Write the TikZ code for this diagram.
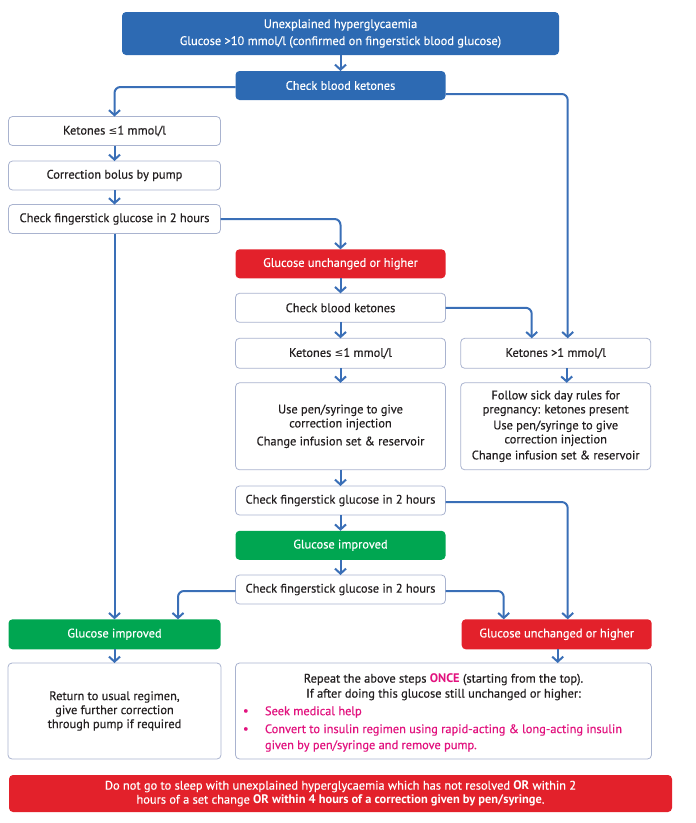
\documentclass[tikz,border=0pt]{standalone}
\usepackage{fontspec}
\setmainfont{PT Sans}[UprightFeatures={FakeBold=0.4}]
\newfontfamily\symf{DejaVu Sans}
\usetikzlibrary{arrows.meta,calc}
\definecolor{nblue}{HTML}{2D6AB3}
\definecolor{abl}{HTML}{3A6FB7}
\definecolor{nred}{HTML}{E3212B}
\definecolor{ngreen}{HTML}{00A651}
\definecolor{mag}{HTML}{E2127E}
\definecolor{bord}{HTML}{A9B3CF}
\definecolor{txt}{HTML}{231F20}
\newcommand{\lesym}{{\symf\fontsize{10.5}{14}\selectfont ≤}}
\begin{document}
\begin{tikzpicture}[x=1pt,y=-1pt, font=\fontsize{12.4}{14}\selectfont,
 base/.style={rounded corners=4pt, inner sep=0pt, outer sep=0pt, align=center},
 wbox/.style={base, draw=bord, line width=0.8pt, fill=white, text=txt},
 bbox/.style={base, fill=nblue, text=white},
 rbox/.style={base, fill=nred, text=white},
 gbox/.style={base, fill=ngreen, text=white},
 plain/.style={inner sep=0pt, outer sep=0pt},
 conn/.style={draw=abl, line width=2pt, rounded corners=6pt, -{Straight Barb[length=5pt,width=11pt]}}]
\useasboundingbox (0,0) rectangle (696,823);
% boxes
\node[bbox, minimum width=437pt, minimum height=43pt] (top) at (340.5,33.5)
  {Unexplained hyperglycaemia\\[3pt]Glucose >10 mmol/l (confirmed on fingerstick blood glucose)};
\node[bbox, minimum width=210pt, minimum height=29pt] (cbk1) at (340.5,85.5) {Check blood ketones};
\node[wbox, minimum width=212pt, minimum height=29pt] (k1) at (114.5,131) {Ketones \lesym1 mmol/l};
\node[wbox, minimum width=212pt, minimum height=29pt] (cb) at (114.5,175.5) {Correction bolus by pump};
\node[wbox, minimum width=212pt, minimum height=29pt] (cf1) at (114.5,219) {Check fingerstick glucose in 2 hours};
\node[rbox, minimum width=210pt, minimum height=29pt] (red1) at (340.5,263.8) {Glucose unchanged or higher};
\node[wbox, minimum width=210pt, minimum height=29pt] (cbk2) at (340.5,307.8) {Check blood ketones};
\node[wbox, minimum width=210pt, minimum height=30pt] (k2) at (340.5,353.3) {Ketones \lesym1 mmol/l};
\node[wbox, minimum width=210pt, minimum height=87pt] (pen) at (340.5,426.3)
  {Use pen/syringe to give\\correction injection\\[4pt]Change infusion set \& reservoir};
\node[wbox, minimum width=190pt, minimum height=30pt] (k3) at (555.7,353.3) {Ketones >1 mmol/l};
\node[wbox, minimum width=190pt, minimum height=87pt] (sick) at (555.7,426.3)
  {Follow sick day rules for\\pregnancy: ketones present\\[2pt]Use pen/syringe to give\\correction injection\\[2pt]Change infusion set \& reservoir};
\node[wbox, minimum width=210pt, minimum height=29pt] (cf2) at (340.5,500.5) {Check fingerstick glucose in 2 hours};
\node[gbox, minimum width=210pt, minimum height=29pt] (green1) at (340.5,545.3) {Glucose improved};
\node[wbox, minimum width=210pt, minimum height=29pt] (cf3) at (340.5,589.5) {Check fingerstick glucose in 2 hours};
\node[gbox, minimum width=212pt, minimum height=30pt] (green2) at (114.5,634.3) {Glucose improved};
\node[rbox, minimum width=190pt, minimum height=30pt] (red2) at (556.7,634.3) {Glucose unchanged or higher};
\node[wbox, minimum width=213pt, minimum height=96pt] (ret) at (114.5,711)
  {Return to usual regimen,\\give further correction\\through pump if required};
\node[wbox, minimum width=416pt, minimum height=96pt] (rep) at (443.5,711) {};
\node[rbox, minimum width=663pt, minimum height=37pt] (warn) at (340.5,793.5)
  {Do not go to sleep with unexplained hyperglycaemia which has not resolved \textbf{OR} within 2\\hours of a set change \textbf{OR within 4 hours of a correction given by pen/syringe}.};
% repeat box content
\node[plain, align=center, text=txt] (rept) at (443.5,687)
  {Repeat the above steps \textcolor{mag}{\textbf{ONCE}} (starting from the top).\\[1pt]If after doing this glucose still unchanged or higher:};
\node[plain, anchor=west, text=mag] (b1) at (243,712) {•};
\node[plain, anchor=west, text=mag] (t1) at (265,712) {Seek medical help};
\node[plain, anchor=west, text=mag] (b2) at (243,730) {•};
\node[plain, anchor=west, align=left, text=mag] (t2) at (265,738)
  {Convert to insulin regimen using rapid-acting \& long-acting insulin\\[2pt]given by pen/syringe and remove pump.};
% connectors
\draw[conn] (top.south) -- (cbk1.north);
\draw[conn] ($(cbk1.west)+(0,1.5)$) -| (k1.north);
\draw[conn] ($(cbk1.east)+(0,8.5)$) -| ($(k3.north)+(12,0)$);
\draw[conn] (k1.south) -- (cb.north);
\draw[conn] (cb.south) -- (cf1.north);
\draw[conn] (cf1.east) -| (red1.north);
\draw[conn] (cf1.south) -- (green2.north);
\draw[conn] (red1.south) -- (cbk2.north);
\draw[conn] (cbk2.east) -| ($(k3.north)+(-24,0)$);
\draw[conn] (cbk2.south) -- (k2.north);
\draw[conn] (k2.south) -- (pen.north);
\draw[conn] ($(k3.south)+(11,0)$) -- ($(sick.north)+(11,0)$);
\draw[conn] (pen.south) -- (cf2.north);
\draw[conn] ($(cf2.east)+(0,1.5)$) -| ($(red2.north)+(11,0)$);
\draw[conn] (cf2.south) -- (green1.north);
\draw[conn] (green1.south) -- (cf3.north);
\draw[conn] ($(cf3.west)+(0,1.5)$) -| ($(green2.north)+(63.5,0)$);
\draw[conn] ($(cf3.east)+(0,1.5)$) -| ($(red2.north)+(-53,0)$);
\draw[conn] (green2.south) -- (ret.north);
\draw[conn] ($(red2.south)+(1,0)$) -- ($(red2.south |- rep.north)+(1,0)$);
\end{tikzpicture}
\end{document}
